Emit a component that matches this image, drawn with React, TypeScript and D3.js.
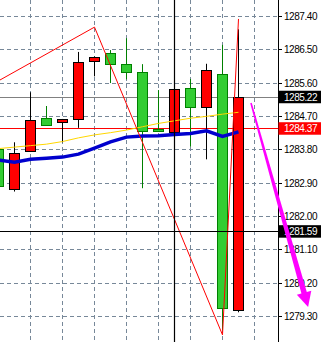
import React from "react";
import * as d3 from "d3";

const W = 323;
const H = 342;

const candleIdx = [-1, 0, 1, 2, 3, 4, 5, 6, 7, 8, 9, 10, 11, 12, 13, 14];
const opens = [1282.81, 1283.69, 1284.58, 1284.47, 1284.62, 1286.16, 1286.29, 1286.10, 1285.88, 1284.29, 1284.30, 1285.42, 1284.93, 1285.93, 1279.52, 1285.21];
const highs = [1283.90, 1283.99, 1285.34, 1284.97, 1284.62, 1286.43, 1286.31, 1286.48, 1286.80, 1286.10, 1285.40, 1285.50, 1285.70, 1286.11, 1286.62, 1287.04];
const lows = [1282.75, 1282.66, 1283.75, 1284.47, 1283.99, 1284.38, 1285.77, 1285.59, 1285.69, 1282.75, 1284.28, 1284.20, 1283.87, 1283.53, 1278.92, 1279.40];
const closes = [1283.81, 1282.72, 1283.75, 1284.65, 1284.53, 1284.61, 1286.18, 1286.40, 1286.10, 1285.89, 1284.35, 1284.26, 1285.45, 1284.93, 1285.84, 1279.45];

const yellowMA = [1283.82, 1283.86, 1283.90, 1283.94, 1284.01, 1284.11, 1284.19, 1284.25, 1284.32, 1284.41, 1284.50, 1284.57, 1284.64, 1284.69, 1284.75, 1284.80];
const blueMA = [1283.51, 1283.45, 1283.53, 1283.56, 1283.59, 1283.67, 1283.83, 1284.00, 1284.13, 1284.16, 1284.17, 1284.20, 1284.23, 1284.30, 1284.15, 1284.27];

const zigzagIdx = [-1, 5, 13, 14];
const zigzagPrice = [1285.65, 1287.10, 1278.79, 1287.32];

const tickLabels = ["1287.40", "1286.50", "1285.60", "1284.70", "1283.80", "1282.90", "1282.00", "1281.10", "1280.20", "1279.30"];
const gridIdx = [1, 3, 5, 7, 9, 11, 13, 15];

const levelPrices = [1285.22, 1284.37, 1281.59];
const levelColors = ["#808080", "#ff0000", "#000000"];
const levelBoxColors = ["#000000", "#ff0000", "#000000"];

const crossIdx = 10;

const arrowStart = { i: 14.78, p: 1285.05 };
const arrowEnd = { i: 18.35, p: 1279.54 };

const PLOT_R = 278;

export default function App() {
  const x = d3.scaleLinear().domain([0, 1]).range([14.5, 30.5]);
  const y = d3.scaleLinear().domain([1287.4, 1279.3]).range([16, 316]);
  const sharp = (v: number) => Math.round(v) + 0.5;

  const yellowLine = d3
    .line<number>()
    .x((_, k) => x(candleIdx[k]))
    .y((d) => y(d));
  const zig = d3
    .line<number>()
    .x((_, k) => x(zigzagIdx[k]))
    .y((d) => y(d));

  // arrow geometry
  const ax0 = x(arrowStart.i), ay0 = y(arrowStart.p);
  const ax1 = x(arrowEnd.i), ay1 = y(arrowEnd.p);
  const dx = ax1 - ax0, dy = ay1 - ay0;
  const len = Math.hypot(dx, dy);
  const ux = dx / len, uy = dy / len;
  const px = uy, py = -ux;
  const headLen = 15, headHalf = 7.5;
  const bx = ax1 - ux * headLen, by = ay1 - uy * headLen;
  const w0 = 0.8, w1 = 2.8;
  const shaft = [
    [ax0 + px * w0, ay0 + py * w0],
    [bx + ux * 2 + px * w1, by + uy * 2 + py * w1],
    [bx + ux * 2 - px * w1, by + uy * 2 - py * w1],
    [ax0 - px * w0, ay0 - py * w0],
  ];
  const head = [
    [ax1, ay1],
    [bx + px * headHalf, by + py * headHalf],
    [bx - px * headHalf, by - py * headHalf],
  ];
  const pts = (a: number[][]) => a.map((p) => p.join(",")).join(" ");

  const font = "'Liberation Sans', Arial, sans-serif";

  return (
    <svg
      width={W}
      height={H}
      style={{ position: "absolute", left: 0, top: 0, background: "#fff" }}
    >
      <rect x={0} y={0} width={W} height={H} fill="#fff" />
      <defs>
        <clipPath id="plot">
          <rect x={0} y={0} width={PLOT_R} height={H} />
        </clipPath>
      </defs>
      {/* grid */}
      <g stroke="#778899" strokeWidth={1} strokeDasharray="4,3">
        {tickLabels.map((t) => (
          <line key={t} x1={0} x2={PLOT_R} y1={sharp(y(+t))} y2={sharp(y(+t))} />
        ))}
        {gridIdx.map((g) => (
          <line key={g} x1={Math.floor(x(g)) + 0.5} x2={Math.floor(x(g)) + 0.5} y1={0} y2={H} />
        ))}
      </g>
      {/* level lines */}
      {levelPrices.slice(0, 2).map((p, k) => (
        <line key={p} x1={0} x2={PLOT_R} y1={sharp(y(p))} y2={sharp(y(p))} stroke={levelColors[k]} strokeWidth={1} />
      ))}
      {/* candles */}
      <g clipPath="url(#plot)">
        {candleIdx.map((ci, k) => {
          const up = closes[k] >= opens[k];
          const cx = Math.floor(x(ci)) + 0.5;
          const top = y(Math.max(opens[k], closes[k]));
          const bot = y(Math.min(opens[k], closes[k]));
          const wickColor = up ? "#008000" : "#000000";
          return (
            <g key={ci}>
              <line x1={cx} x2={cx} y1={y(highs[k])} y2={y(lows[k])} stroke={wickColor} strokeWidth={1} />
              <rect
                x={cx - 5}
                y={Math.round(top) + 0.5}
                width={10}
                height={Math.max(1, Math.round(bot) - Math.round(top))}
                fill={up ? "#32cd32" : "#ff0000"}
                stroke={up ? "#008000" : "#000000"}
                strokeWidth={1}
              />
            </g>
          );
        })}
        <path d={yellowLine(yellowMA) || ""} fill="none" stroke="#ffd700" strokeWidth={1} />
        <path d={yellowLine(blueMA) || ""} fill="none" stroke="#0000cd" strokeWidth={3.5} />
        <path d={zig(zigzagPrice) || ""} fill="none" stroke="#ff0000" strokeWidth={1} />
      </g>
      {/* crosshair */}
      <line x1={Math.floor(x(crossIdx)) + 0.5} x2={Math.floor(x(crossIdx)) + 0.5} y1={0} y2={H} stroke="#000" strokeWidth={1.2} />
      <line x1={0} x2={PLOT_R} y1={sharp(y(levelPrices[2]))} y2={sharp(y(levelPrices[2]))} stroke="#000" strokeWidth={1.2} />
      {/* axis */}
      <line x1={PLOT_R + 0.5} x2={PLOT_R + 0.5} y1={0} y2={H} stroke="#000" strokeWidth={1} />
      {tickLabels.map((t) => (
        <g key={t}>
          <line x1={PLOT_R} x2={PLOT_R + 4} y1={sharp(y(+t))} y2={sharp(y(+t))} stroke="#000" />
          <text x={284} y={y(+t) + 4} fontFamily={font} fontSize={10} letterSpacing={-0.45} fill="#000">
            {t}
          </text>
        </g>
      ))}
      {levelPrices.map((p, k) => (
        <g key={p}>
          <rect x={PLOT_R + 0.5} y={y(p) - 6} width={42.5} height={12.5} fill={levelBoxColors[k]} />
          <text x={284} y={y(p) + 4} fontFamily={font} fontSize={10} letterSpacing={-0.45} fill="#fff">
            {p.toFixed(2)}
          </text>
        </g>
      ))}
      {/* magenta arrow */}
      <polygon points={pts(shaft)} fill="#ff00ff" />
      <polygon points={pts(head)} fill="#ff00ff" />
    </svg>
  );
}
